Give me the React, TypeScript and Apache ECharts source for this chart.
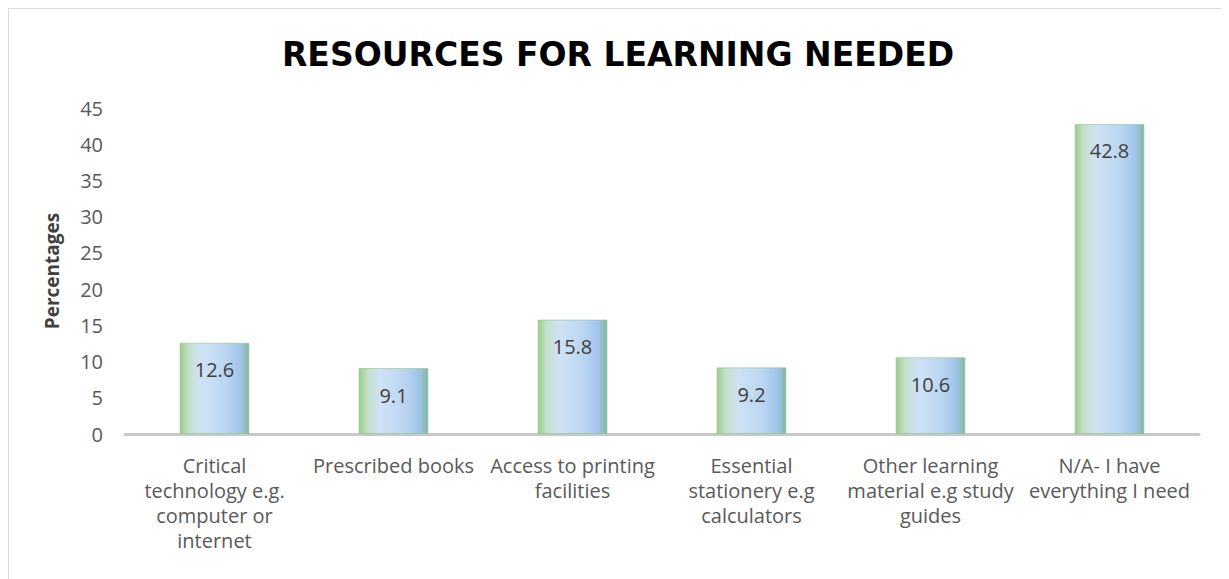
import React, { useEffect, useRef } from "react";
import * as echarts from "echarts";

const categories = [
  "Critical\ntechnology e.g.\ncomputer or\ninternet",
  "Prescribed books",
  "Access to printing\nfacilities",
  "Essential\nstationery e.g\ncalculators",
  "Other learning\nmaterial e.g study\nguides",
  "N/A- I have\neverything I need",
];
const values = [12.6, 9.1, 15.8, 9.2, 10.6, 42.8];
const titleText = "RESOURCES FOR LEARNING NEEDED";
const yAxisName = "Percentages";

export default function App() {
  const ref = useRef<HTMLDivElement>(null);
  useEffect(() => {
    document.body.style.overflow = "hidden";
    const chart = echarts.init(ref.current!, null, { renderer: "svg" });
    const font = "'Open Sans', 'Liberation Sans', sans-serif";
    chart.setOption({
      animation: false,
      title: {
        text: titleText,
        left: "center",
        top: 24,
        textStyle: {
          fontFamily: "'DejaVu Sans', sans-serif",
          fontWeight: "bold",
          fontSize: 33,
          color: "#000000",
        },
      },
      grid: { left: 116, right: 28, top: 99, bottom: 155 },
      xAxis: {
        type: "category",
        data: categories,
        axisLine: { lineStyle: { color: "#c8c8c8", width: 3 } },
        axisTick: { show: false },
        axisLabel: {
          interval: 0,
          color: "#595959",
          fontFamily: font,
          fontSize: 20,
          lineHeight: 25,
          margin: 19,
          align: "center",
          verticalAlign: "top",
        },
      },
      yAxis: {
        type: "value",
        min: 0,
        max: 45,
        interval: 5,
        name: yAxisName,
        nameLocation: "middle",
        nameGap: 64,
        nameRotate: 90,
        nameTextStyle: {
          fontFamily: font,
          fontWeight: "bold",
          fontSize: 19,
          color: "#404040",
        },
        splitLine: { show: false },
        axisLine: { show: false },
        axisTick: { show: false },
        axisLabel: {
          color: "#595959",
          fontFamily: font,
          fontSize: 20,
          margin: 22,
        },
      },
      series: [
        {
          type: "bar",
          data: values,
          barWidth: "39%",
          itemStyle: {
            color: new echarts.graphic.LinearGradient(0, 0, 1, 0, [
              { offset: 0, color: "#9ccc8c" },
              { offset: 0.12, color: "#c3dfc8" },
              { offset: 0.3, color: "#cfe2f6" },
              { offset: 0.65, color: "#bcd6f1" },
              { offset: 0.88, color: "#9fc4ea" },
              { offset: 1, color: "#84b89c" },
            ]),
            borderColor: "rgba(140,195,140,0.6)",
            borderWidth: 1,
          },
          label: {
            show: true,
            position: "insideTop",
            distance: 17,
            color: "#404040",
            fontFamily: font,
            fontSize: 20,
          },
        },
      ],
    });
    return () => chart.dispose();
  }, []);
  return (
    <div
      style={{
        border: "1px solid #d9d9d9",
        width: 1218,
        height: 580,
        background: "#ffffff",
      }}
    >
      <div ref={ref} style={{ width: 1218, height: 580 }} />
    </div>
  );
}
